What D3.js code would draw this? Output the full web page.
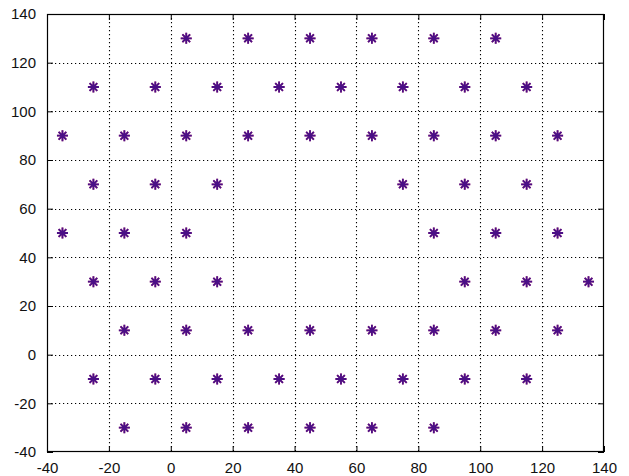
<!DOCTYPE html>
<html>
<head>
<meta charset="utf-8">
<script src="https://cdn.jsdelivr.net/npm/d3@7"></script>
<style>
html,body{margin:0;padding:0;background:#fff;}
svg{display:block;}
</style>
</head>
<body>
<svg id="chart" width="629" height="476"></svg>
<script>
// Data: points per row (y level) with x positions
const rowY = [130, 110, 90, 70, 50, 30, 10, -10, -30];
const rowX = [
  [5, 25, 45, 65, 85, 105],
  [-25, -5, 15, 35, 55, 75, 95, 115],
  [-35, -15, 5, 25, 45, 65, 85, 105, 125],
  [-25, -5, 15, 75, 95, 115],
  [-35, -15, 5, 85, 105, 125],
  [-25, -5, 15, 95, 115, 135],
  [-15, 5, 25, 45, 65, 85, 105, 125],
  [-25, -5, 15, 35, 55, 75, 95, 115],
  [-15, 5, 25, 45, 65, 85]
];
const xTicks = [-40, -20, 0, 20, 40, 60, 80, 100, 120, 140];
const yTicks = [-40, -20, 0, 20, 40, 60, 80, 100, 120, 140];
const xDomain = [-40, 140];
const yDomain = [-40, 140];

const bluePts = [];
rowY.forEach((y, i) => rowX[i].forEach(x => bluePts.push({x, y})));
const redPts = bluePts.map(p => ({x: p.x, y: p.y}));

const svg = d3.select("#chart");
const L = 47, T = 14, R = 604, B = 452;
const x = d3.scaleLinear().domain(xDomain).range([L, R]);
const y = d3.scaleLinear().domain(yDomain).range([B, T]);

// grid
const grid = svg.append("g");
grid.selectAll("line.vx").data(xTicks.slice(1, -1)).enter().append("line")
  .attr("x1", d => Math.round(x(d)) + 0.5).attr("x2", d => Math.round(x(d)) + 0.5)
  .attr("y1", T).attr("y2", B)
  .attr("stroke", "#000").attr("stroke-width", 1.1).attr("stroke-dasharray", "1.2,2.8");
grid.selectAll("line.hy").data(yTicks.slice(1, -1)).enter().append("line")
  .attr("y1", d => Math.round(y(d)) + 0.5).attr("y2", d => Math.round(y(d)) + 0.5)
  .attr("x1", L).attr("x2", R)
  .attr("stroke", "#000").attr("stroke-width", 1.1).attr("stroke-dasharray", "1.2,2.8");

// axes
const fontFam = "'Liberation Sans', Arial, sans-serif";
const fmt = d => String(d);
const xAxis = d3.axisBottom(x).tickValues(xTicks).tickFormat(fmt).tickSizeInner(-6).tickSizeOuter(0).tickPadding(10);
const yAxis = d3.axisLeft(y).tickValues(yTicks).tickFormat(fmt).tickSizeInner(-6).tickSizeOuter(0).tickPadding(11);
const gx = svg.append("g").attr("transform", `translate(0,${B})`).call(xAxis);
const gy = svg.append("g").attr("transform", `translate(${L},0)`).call(yAxis);
const gxTop = svg.append("g").attr("transform", `translate(0,${T})`)
  .call(d3.axisTop(x).tickValues(xTicks).tickSizeInner(-6).tickSizeOuter(0).tickFormat(""));
const gyRight = svg.append("g").attr("transform", `translate(${R},0)`)
  .call(d3.axisRight(y).tickValues(yTicks).tickSizeInner(-6).tickSizeOuter(0).tickFormat(""));
[gx, gy, gxTop, gyRight].forEach(g => {
  g.select(".domain").remove();
  g.selectAll(".tick line").attr("stroke", "#000");
  g.selectAll("text").attr("font-family", fontFam).attr("font-size", 15).attr("fill", "#111");
});
gx.selectAll("text").attr("dy", "0.71em");

// box
svg.append("rect").attr("x", L + 0.5).attr("y", T + 0.5)
  .attr("width", R - L - 1).attr("height", B - T - 1)
  .attr("fill", "none").attr("stroke", "#000").attr("stroke-width", 1.2);

// asterisk marker
const s = 5.5;
const starPath = `M${-s},0L${s},0M0,${-s}L0,${s}M${-s*0.7},${-s*0.7}L${s*0.7},${s*0.7}M${-s*0.7},${s*0.7}L${s*0.7},${-s*0.7}`;
svg.append("g").selectAll("path").data(redPts).enter().append("path")
  .attr("d", starPath)
  .attr("transform", d => `translate(${x(d.x)},${y(d.y)})`)
  .attr("stroke", "#c0104a").attr("stroke-width", 1.8).attr("fill", "none");
svg.append("g").selectAll("path").data(bluePts).enter().append("path")
  .attr("d", starPath)
  .attr("transform", d => `translate(${x(d.x)},${y(d.y)})`)
  .attr("stroke", "#1a10a0").attr("stroke-width", 1.8).attr("fill", "none").attr("opacity", 0.7);
</script>
</body>
</html>
